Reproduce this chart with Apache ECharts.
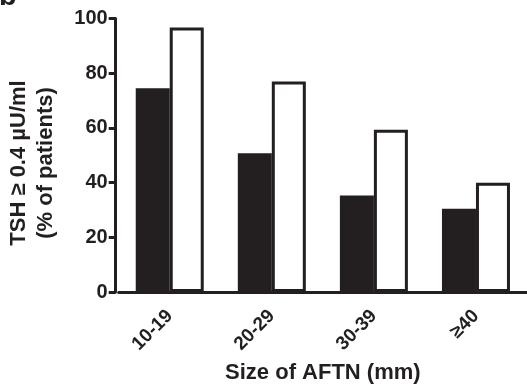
<!DOCTYPE html>
<html>
<head>
<meta charset="utf-8">
<script src="https://cdn.jsdelivr.net/npm/echarts@6/dist/echarts.min.js"></script>
<style>
  html, body { margin: 0; padding: 0; background: #fff; }
  #main { width: 527px; height: 389px; }
</style>
</head>
<body>
<div id="main"></div>
<script>
// size groups of the nodules
var categories = ['10-19', '20-29', '30-39', '≥40'];
// filled bars and open bars, % of patients
var blackValues = [74.5, 50.7, 35.3, 30.4];
var whiteValues = [96.7, 77, 59.3, 39.9];
var yTicks = [0, 20, 40, 60, 80, 100];

var ink = '#231f20';
var font = '"Liberation Sans", Arial, Helvetica, sans-serif';

var chart = echarts.init(document.getElementById('main'));

var option = {
    animation: false,
    backgroundColor: '#fff',
    grid: {
        left: 118.7,
        right: -2.3,
        top: 18.5,
        bottom: 96
    },
    graphic: [
        {
            type: 'text',
            left: -1,
            top: -18,
            style: { text: 'b', fontSize: 29, fontWeight: 'bold', fontFamily: font, fill: ink }
        },
        {
            type: 'text',
            x: 32,
            y: 163,
            rotation: Math.PI / 2,
            style: {
                text: 'TSH ≥ 0.4 µU/ml\n(% of patients)',
                fontSize: 22,
                fontWeight: 'bold',
                fontFamily: font,
                fill: ink,
                align: 'center',
                verticalAlign: 'middle',
                lineHeight: 27
            }
        }
    ],
    xAxis: {
        type: 'category',
        data: categories,
        name: 'Size of AFTN (mm)',
        nameLocation: 'middle',
        nameGap: 70,
        nameTextStyle: { fontSize: 22, fontWeight: 'bold', fontFamily: font, color: ink },
        axisLine: { lineStyle: { color: ink, width: 3 } },
        axisTick: { alignWithLabel: true, length: 7, lineStyle: { color: ink, width: 3 } },
        axisLabel: {
            rotate: 45,
            margin: 21,
            fontSize: 19,
            fontWeight: 'bold',
            fontFamily: font,
            color: ink
        }
    },
    yAxis: {
        type: 'value',
        min: yTicks[0],
        max: yTicks[yTicks.length - 1],
        interval: 20,
        offset: 3,
        splitLine: { show: false },
        axisLine: { show: true, lineStyle: { color: ink, width: 3 } },
        axisTick: { show: true, length: 7, lineStyle: { color: ink, width: 3 } },
        axisLabel: {
            margin: 8,
            fontSize: 20,
            fontWeight: 'bold',
            fontFamily: font,
            color: ink
        }
    },
    series: [
        {
            type: 'bar',
            data: blackValues,
            barWidth: 34,
            barGap: '0%',
            itemStyle: { color: ink, borderColor: ink, borderWidth: 3 }
        },
        {
            type: 'bar',
            data: whiteValues,
            barWidth: 34,
            barGap: '0%',
            itemStyle: { color: '#fff', borderColor: ink, borderWidth: 3 }
        }
    ]
};

chart.setOption(option);
</script>
</body>
</html>
